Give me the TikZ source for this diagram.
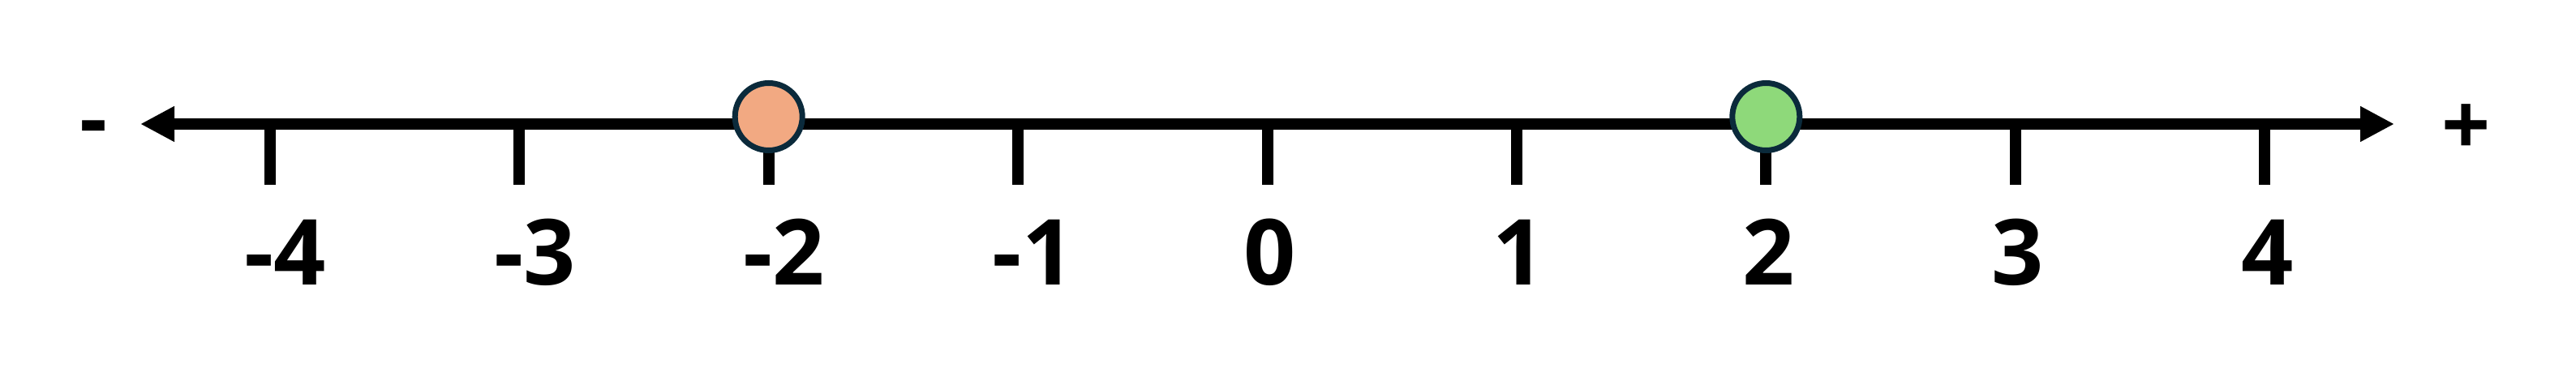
\documentclass[tikz,border=0pt]{standalone}
\usepackage{fontspec}
\setmainfont{Open Sans}
\usetikzlibrary{arrows.meta}
\definecolor{navy}{HTML}{0B2A3B}
\definecolor{peach}{HTML}{F2A982}
\definecolor{lightgreen}{HTML}{8ED97A}
\tikzset{
  axis/.style={line width=0.14cm, {Triangle[length=0.42cm,width=0.41cm]}-{Triangle[length=0.42cm,width=0.41cm]}},
  tickline/.style={line width=0.14cm},
  ticklabel/.style={font=\fontsize{32}{38}\selectfont\bfseries, anchor=base, inner sep=0pt},
  signlabel/.style={font=\fontsize{30}{36}\selectfont\bfseries, inner sep=0pt},
  point/.style={circle, draw=navy, line width=0.07cm, minimum size=0.83cm, inner sep=0pt}
}

\begin{document}
\begin{tikzpicture}
        \useasboundingbox (0,0) rectangle (31.76,4.54);

        % number line
        \coordinate (leftend) at (1.73,3.01);
        \coordinate (rightend) at (29.52,3.01);
        \draw [axis] (leftend) -- (rightend);

        % ticks and numbers
        \foreach \i [count=\k] in {-4,...,4} {
            \pgfmathsetmacro{\dx}{\i<0 ? 0.19 : 0.03}
            \coordinate (tick\k) at ({15.625+3.074*\i},3.01);
            \draw [tickline] (tick\k) -- ++(0,-0.75);
            \node [ticklabel] (lab\k) at ([xshift=\dx cm]tick\k |- 0,1.02) {\i};
        }

        % signs at both ends
        \node [signlabel] (minus) at (1.15,2.88) {-};
        \node [signlabel] (plus) at (30.41,2.94) {+};

        % marked points
        \node [point, fill=peach] (ptA) at ([yshift=0.09cm]tick3) {};
        \node [point, fill=lightgreen] (ptB) at ([yshift=0.09cm]tick7) {};
\end{tikzpicture}
\end{document}
